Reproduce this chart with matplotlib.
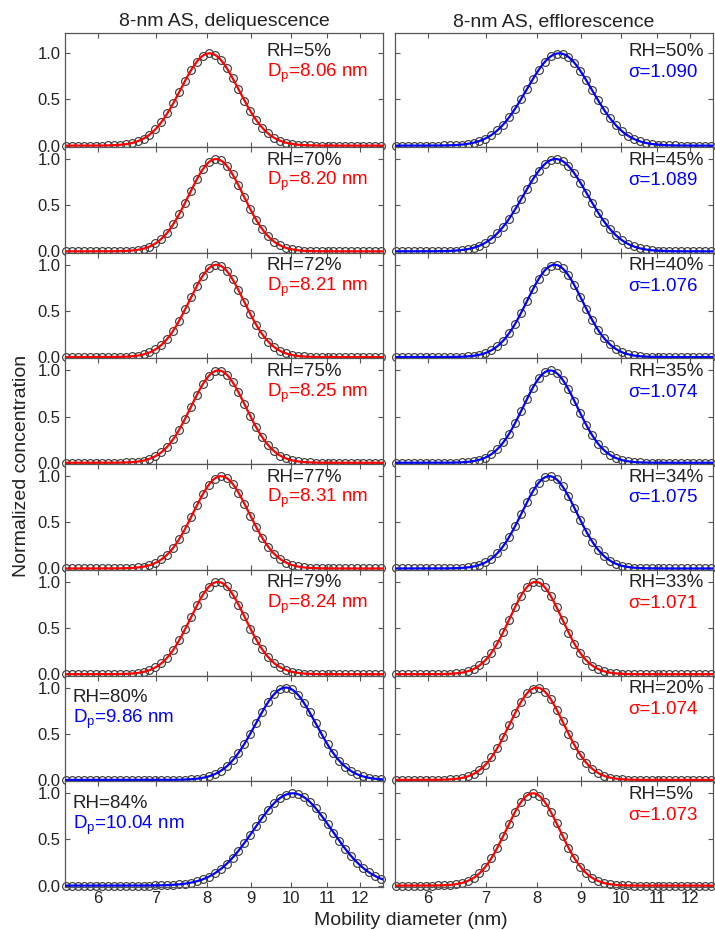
import numpy as np
import matplotlib
matplotlib.use("Agg")
import matplotlib.pyplot as plt
from matplotlib.ticker import NullLocator, FixedLocator, FixedFormatter

plt.rcParams["font.family"] = ["Liberation Sans", "DejaVu Sans"]
plt.rcParams["mathtext.default"] = "regular"

# deliquescence (left column): RH, peak diameter, geometric std, colour
rh_del = ["5%", "70%", "72%", "75%", "77%", "79%", "80%", "84%"]
dp_del = [8.06, 8.20, 8.21, 8.25, 8.31, 8.24, 9.86, 10.04]
sg_del = [1.080, 1.075, 1.075, 1.075, 1.076, 1.075, 1.083, 1.108]
col_del = ["red"] * 6 + ["blue"] * 2

# efflorescence (right column)
rh_eff = ["50%", "45%", "40%", "35%", "34%", "33%", "20%", "5%"]
dp_eff = [8.49, 8.41, 8.39, 8.29, 8.27, 7.98, 8.00, 7.92]
sg_eff = [1.090, 1.089, 1.076, 1.074, 1.075, 1.071, 1.074, 1.073]
col_eff = ["blue"] * 5 + ["red"] * 3

# SMPS size channels (log spaced) and a fine grid for the fitted curve
d_meas = np.geomspace(5.52, 12.68, 54)
d_fit = np.geomspace(5.45, 12.8, 400)

xticks = [6, 7, 8, 9, 10, 11, 12]
yticks = [0.0, 0.5, 1.0]
ytick_labels = ["0.0", "0.5", "1.0"]


def lognorm(d, dp, sg):
    return np.exp(-np.log(d / dp) ** 2 / (2 * np.log(sg) ** 2))


fig = plt.figure(figsize=(7.15, 9.3), dpi=100)
gs = fig.add_gridspec(8, 2, left=65 / 715, right=713 / 715,
                      top=1 - 33 / 930, bottom=1 - 887 / 930,
                      wspace=12 / 318, hspace=0,
                      height_ratios=[1.235] + [1.145] * 7)

txt = "#222222"
spine_c = "#555555"

for col in range(2):
    for row in range(8):
        ax = fig.add_subplot(gs[row, col])
        if col == 0:
            dp, sg, c = dp_del[row], sg_del[row], col_del[row]
            label2 = "D$_p$=%.2f nm" % dp
            xt = 0.635 if row < 6 else 0.025
        else:
            dp, sg, c = dp_eff[row], sg_eff[row], col_eff[row]
            label2 = "\u03c3=%.3f" % sg
            xt = 0.733
        rh = (rh_del if col == 0 else rh_eff)[row]

        ax.plot(d_meas, lognorm(d_meas, dp, sg), "o", ms=5.6, mfc="none",
                mec="#333333", mew=0.8, clip_on=False, zorder=2)
        ax.plot(d_fit, lognorm(d_fit, dp, sg), "-", color=c, lw=1.6, zorder=3)

        ax.set_xscale("log")
        ax.set_xlim(5.5, 12.75)
        ax.set_ylim(-0.015, 1.22 if row == 0 else 1.13)
        ax.xaxis.set_major_locator(FixedLocator(xticks))
        ax.xaxis.set_major_formatter(FixedFormatter([str(t) for t in xticks]))
        ax.xaxis.set_minor_locator(NullLocator())
        ax.set_yticks(yticks)
        ax.set_yticklabels(ytick_labels)
        ax.tick_params(direction="in", top=True, right=True, length=3.5,
                       width=0.8, color=spine_c, labelcolor=txt, labelsize=12,
                       pad=3)
        if row < 7:
            ax.tick_params(labelbottom=False)
        if col == 1:
            ax.tick_params(labelleft=False)
        for s in ax.spines.values():
            s.set_color(spine_c)
            s.set_linewidth(0.9)

        if col == 0 and row >= 6:
            yb1, yb2 = 0.845, 0.615
        elif row == 0:
            yb1, yb2 = 0.97, 0.745
        else:
            yb1, yb2 = 0.94, 0.715
        tr = ax.get_yaxis_transform()
        ax.text(xt, yb1, "RH=" + rh, transform=tr, fontsize=13.5, color=txt,
                ha="left", va="baseline", zorder=5)
        ax.text(xt, yb2, label2, transform=tr, fontsize=13.5, color=c,
                ha="left", va="baseline", zorder=5)

        if row == 0:
            ax.set_title("8-nm AS, deliquescence" if col == 0 else "8-nm AS, efflorescence",
                         fontsize=14, color=txt, pad=5)

fig.text(22 / 715, 1 - 466 / 930, "Normalized concentration", rotation=90,
         ha="center", va="center", fontsize=14, color=txt)
fig.text(411 / 715, 1 - 925 / 930, "Mobility diameter (nm)",
         ha="center", va="baseline", fontsize=14, color=txt)

fig.savefig("out.png", dpi=100)
